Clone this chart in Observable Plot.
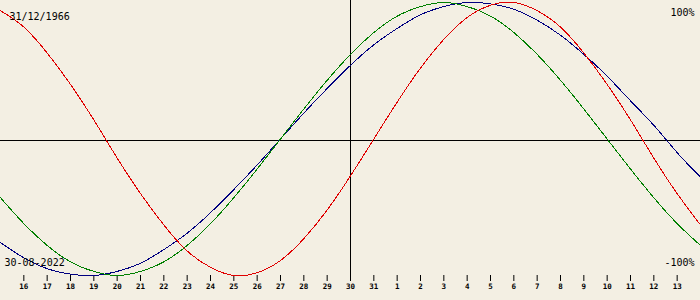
<!DOCTYPE html>
<html>
<head>
<meta charset="utf-8">
<script src="https://cdn.jsdelivr.net/npm/d3@7"></script>
<script src="https://cdn.jsdelivr.net/npm/@observablehq/plot@0.6"></script>
<style>
  html, body { margin: 0; padding: 0; background: #f3efe3; }
  #chart svg { display: block; }
</style>
</head>
<body>
<div id="chart"></div>
<script>
// Day of month for each plotted day (15 Aug 2022 .. 14 Sep 2022)
const dayOfMonth = [15,16,17,18,19,20,21,22,23,24,25,26,27,28,29,30,31,1,2,3,4,5,6,7,8,9,10,11,12,13,14];
// Biorhythm values in percent, one per day
const physical = [94,82,63,40,14,-14,-40,-63,-82,-94,-100,-98,-89,-73,-52,-27,0,27,52,73,89,98,100,94,82,63,40,14,-14,-40,-63];
const emotional = [-43,-62,-78,-90,-97,-100,-97,-90,-78,-62,-43,-22,0,22,43,62,78,90,97,100,97,90,78,62,43,22,0,-22,-43,-62,-78];
const intellectual = [-76,-87,-95,-99,-100,-97,-91,-81,-69,-54,-37,-19,0,19,37,54,69,81,91,97,100,99,95,87,76,62,46,28,10,-10,-28];
const tickIndex = [1,2,3,4,5,6,7,8,9,10,11,12,13,14,15,16,17,18,19,20,21,22,23,24,25,26,27,28,29];
const todayIndex = [15];
const birthLabel = "31/12/1966";
const dateLabel = "30-08-2022";
const topLabel = "100%";
const bottomLabel = "-100%";

const rows = (vals) => vals.map((v, i) => ({i, v}));

const chart = Plot.plot({
  width: 700,
  height: 300,
  marginTop: 2,
  marginBottom: 25,
  marginLeft: 0,
  marginRight: 0,
  x: {domain: [0, dayOfMonth.length - 1], axis: null},
  y: {domain: [-100, 100], axis: null},
  style: {background: "#f3efe3", color: "black", fontFamily: "DejaVu Sans Mono", fontSize: "10px"},
  marks: [
    Plot.ruleY([0], {stroke: "black", dy: 1.5}),
    Plot.ruleX(todayIndex, {x: d => d, stroke: "black", insetTop: -2, insetBottom: -6}),
    Plot.axisX({
      ticks: tickIndex,
      tickFormat: i => dayOfMonth[i],
      tickSize: 6,
      tickPadding: 2.5,
      fontSize: 7.5,
      fontWeight: "bold",
      stroke: "black",
      fill: "black",
      label: null,
      anchor: "bottom"
    }),
    Plot.line(rows(intellectual), {x: "i", y: "v", stroke: "#000080", strokeWidth: 1, curve: "natural", shapeRendering: "crispEdges"}),
    Plot.line(rows(emotional), {x: "i", y: "v", stroke: "#008000", strokeWidth: 1, curve: "natural", shapeRendering: "crispEdges"}),
    Plot.line(rows(physical), {x: "i", y: "v", stroke: "#e00000", strokeWidth: 1, curve: "natural", shapeRendering: "crispEdges"}),
    Plot.text([birthLabel], {frameAnchor: "top-left", textAnchor: "start", lineAnchor: "top", dx: 9, dy: 10.4, fontSize: 10, fill: "black"}),
    Plot.text([topLabel], {frameAnchor: "top-right", textAnchor: "end", lineAnchor: "top", dx: -6, dy: 5.9, fontSize: 10, fill: "black"}),
    Plot.text([dateLabel], {frameAnchor: "top-left", textAnchor: "start", lineAnchor: "top", dx: 4, dy: 256.4, fontSize: 10, fill: "black"}),
    Plot.text([bottomLabel], {frameAnchor: "top-right", textAnchor: "end", lineAnchor: "top", dx: -6, dy: 256.4, fontSize: 10, fill: "black"})
  ]
});
document.getElementById("chart").appendChild(chart);
</script>
</body>
</html>
